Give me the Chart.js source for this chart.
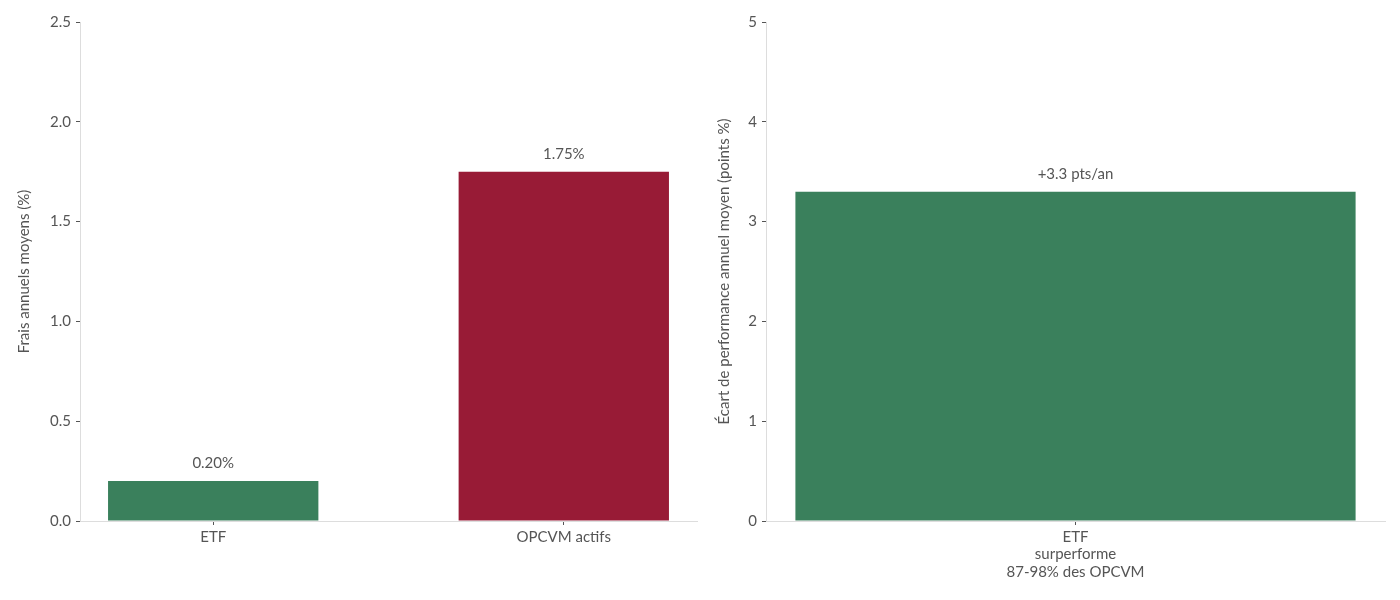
<!DOCTYPE html>
<html>
<head>
<meta charset="utf-8">
<script src="https://cdn.jsdelivr.net/npm/chart.js@4"></script>
<style>
  html, body { margin: 0; padding: 0; background: #fff; }
  #wrap { display: flex; width: 1400px; height: 600px; }
  .box { position: relative; width: 700px; height: 600px; }
</style>
</head>
<body>
<div id="wrap">
  <div class="box"><canvas id="frais"></canvas></div>
  <div class="box"><canvas id="perf"></canvas></div>
</div>
<script>
const fraisLabels = ['ETF', 'OPCVM actifs'];
const fraisValues = [0.20, 1.75];
const fraisTexts = ['0.20%', '1.75%'];
const fraisTicks = [0, 0.5, 1.0, 1.5, 2.0, 2.5];

const perfLabels = [['ETF', 'surperforme', '87-98% des OPCVM']];
const perfValues = [3.3];
const perfTexts = ['+3.3 pts/an'];
const perfTicks = [0, 1, 2, 3, 4, 5];

const GREEN = '#3a805c';
const RED = '#981b36';
const TXT = '#555555';
const FONT = 'Lato, "Open Sans", sans-serif';

Chart.defaults.font.family = FONT;
Chart.defaults.font.size = 15;
Chart.defaults.color = TXT;

// petits textes au-dessus des barres
const barText = {
    id: 'barText',
    afterDatasetsDraw(chart, args, opts) {
        const ctx = chart.ctx;
        const meta = chart.getDatasetMeta(0);
        ctx.save();
        ctx.font = '15px ' + FONT;
        ctx.fillStyle = TXT;
        ctx.textAlign = 'center';
        ctx.textBaseline = 'middle';
        meta.data.forEach((bar, i) => {
            ctx.fillText(opts.texts[i], bar.x, bar.y - 18);
        });
        ctx.restore();
    }
};

function yScale(ticks, title, yWidth, fmt) {
    return {
        min: ticks[0],
        max: ticks[ticks.length - 1],
        afterBuildTicks: s => { s.ticks = ticks.map(v => ({ value: v })); },
        grid: { drawOnChartArea: false, drawTicks: true, tickLength: 4, tickColor: TXT },
        border: { color: '#dddddd' },
        ticks: { padding: 5, callback: fmt },
        title: { display: true, text: title, padding: { top: 0, bottom: 8 } },
        afterFit: s => { s.width = yWidth; }
    };
}

const xGrid = { drawOnChartArea: false, drawTicks: true, tickLength: 4, tickColor: TXT, offset: false };

// graphique de gauche : axe x lineaire pour garder les marges autour des barres
new Chart(document.getElementById('frais').getContext('2d'), {
    type: 'bar',
    data: {
        datasets: [{
            data: fraisValues.map((v, i) => ({ x: i, y: v })),
            backgroundColor: [GREEN, RED],
            barPercentage: 0.6,
            categoryPercentage: 1
        }]
    },
    options: {
        responsive: true,
        maintainAspectRatio: false,
        animation: false,
        layout: { padding: { top: 22, right: 3, left: 15, bottom: 0 } },
        plugins: {
            legend: { display: false },
            tooltip: { enabled: false },
            barText: { texts: fraisTexts }
        },
        scales: {
            x: {
                type: 'linear',
                offset: false,
                min: -0.38,
                max: 1.38,
                afterBuildTicks: s => { s.ticks = fraisLabels.map((l, i) => ({ value: i })); },
                grid: xGrid,
                border: { color: '#dddddd' },
                ticks: { padding: 3, maxRotation: 0, callback: v => fraisLabels[v] },
                afterFit: s => { s.height = 79; }
            },
            y: yScale(fraisTicks, 'Frais annuels moyens (%)', 65, v => Number(v).toFixed(1))
        }
    },
    plugins: [barText]
});

new Chart(document.getElementById('perf').getContext('2d'), {
    type: 'bar',
    data: {
        labels: perfLabels,
        datasets: [{
            data: perfValues,
            backgroundColor: [GREEN],
            barPercentage: 0.905,
            categoryPercentage: 1
        }]
    },
    options: {
        responsive: true,
        maintainAspectRatio: false,
        animation: false,
        layout: { padding: { top: 22, right: 15, left: 15, bottom: 0 } },
        plugins: {
            legend: { display: false },
            tooltip: { enabled: false },
            barText: { texts: perfTexts }
        },
        scales: {
            x: {
                grid: xGrid,
                border: { color: '#dddddd' },
                ticks: { padding: 3, maxRotation: 0, font: { lineHeight: 1.17 } },
                afterFit: s => { s.height = 79; }
            },
            y: yScale(perfTicks, 'Écart de performance annuel moyen (points %)', 51, v => String(v))
        }
    },
    plugins: [barText]
});
</script>
</body>
</html>
